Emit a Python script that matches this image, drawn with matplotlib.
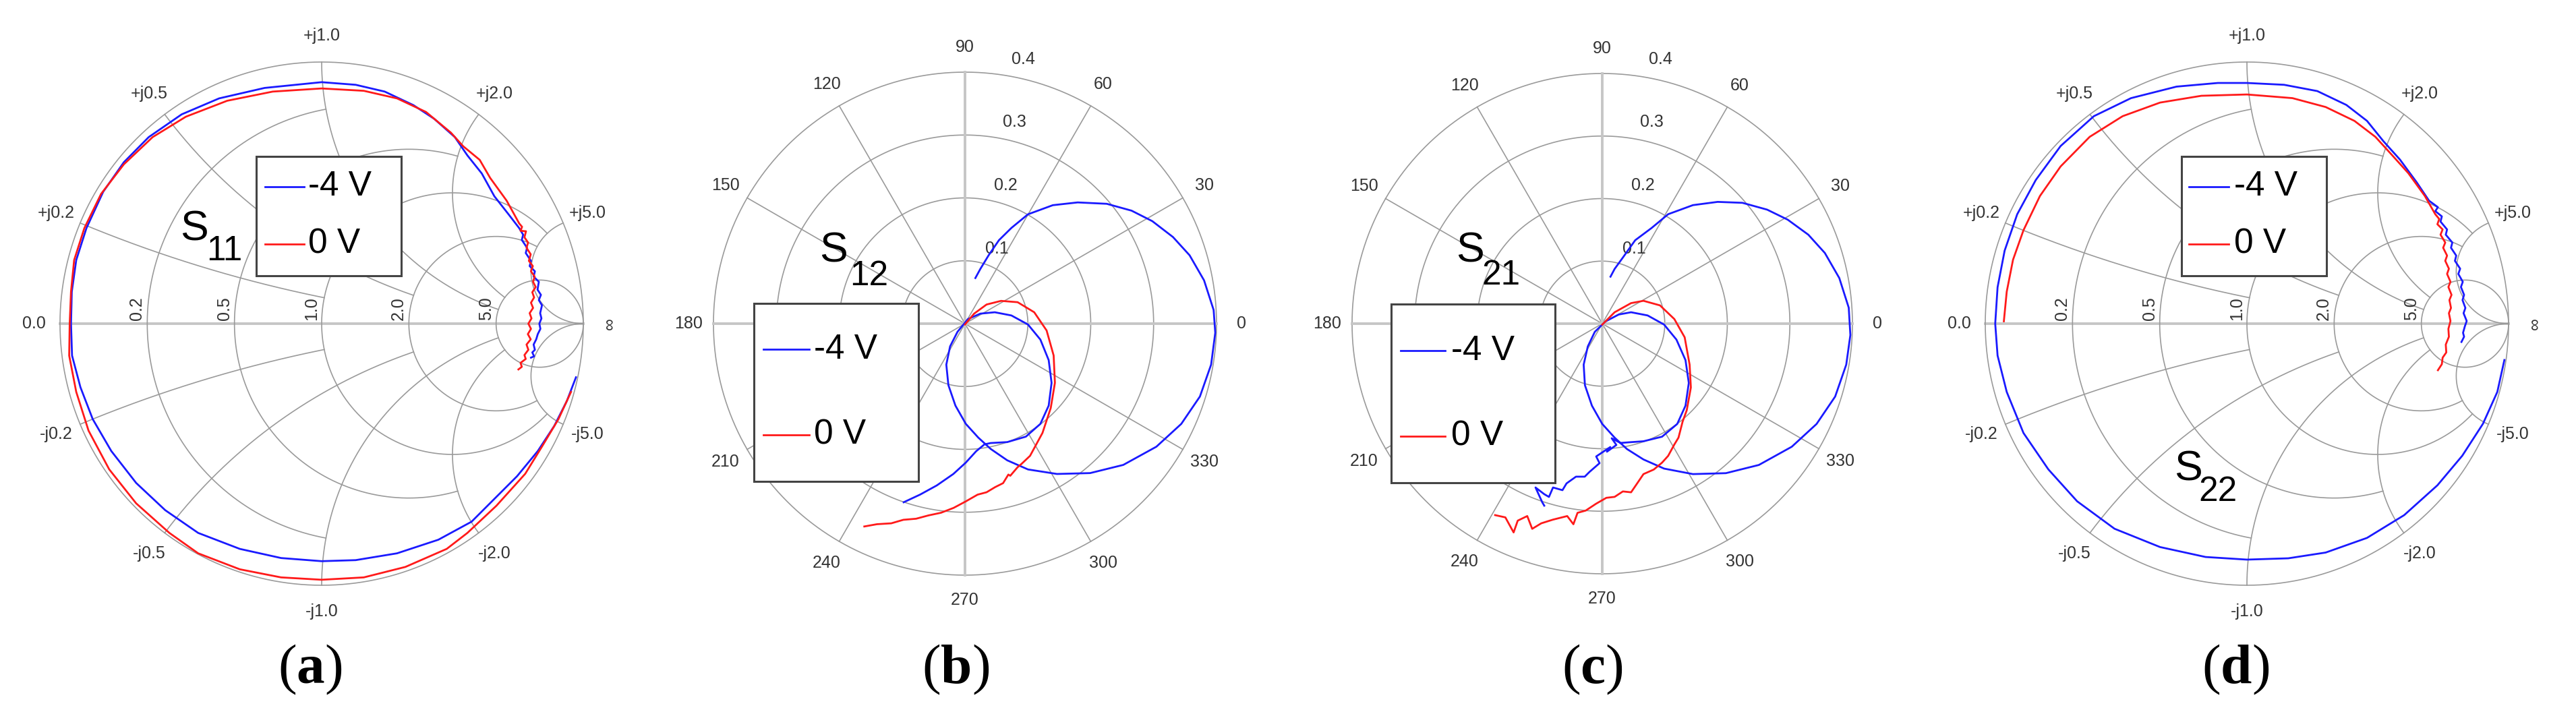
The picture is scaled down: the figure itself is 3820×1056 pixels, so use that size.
import numpy as np
import matplotlib
matplotlib.use('Agg')
from matplotlib import pyplot as plt
from matplotlib.patches import Rectangle
from matplotlib.lines import Line2D

plt.rcParams['font.family'] = ['Liberation Sans', 'DejaVu Sans']
plt.rcParams['mathtext.fontset'] = 'custom'
plt.rcParams['mathtext.rm'] = 'Liberation Serif'
plt.rcParams['mathtext.bf'] = 'Liberation Serif:bold'

W, H = 3820, 1056

# ---------------- data ----------------
legend_labels = ['-4 V', '0 V']
panel_tags = ['a', 'b', 'c', 'd']

# Smith chart grid values
smith_r = [0.2, 0.5, 1.0, 2.0, 5.0]
smith_x = [0.2, 0.5, 1.0, 2.0, 5.0]

# polar grid values
polar_rings = [0.1, 0.2, 0.3, 0.4]
polar_angles = [0, 30, 60, 90, 120, 150, 180, 210, 240, 270, 300, 330]

# S11, reflection coefficient (real, imag)
s11_m4v_re = [0.972, 0.937, 0.889, 0.826, 0.747, 0.652, 0.573, 0.446, 0.288, 0.130, 0.0,
              -0.155, -0.313, -0.472, -0.598, -0.709, -0.804, -0.875, -0.922, -0.954, -0.958,
              -0.955, -0.938, -0.899, -0.835, -0.756, -0.661, -0.535, -0.392, -0.218, 0.0,
              0.130, 0.241, 0.351, 0.430, 0.509, 0.557, 0.612, 0.660, 0.715, 0.755,
              0.770, 0.765, 0.785, 0.780, 0.800, 0.795, 0.815, 0.810, 0.830, 0.825, 0.838,
              0.830, 0.842, 0.835, 0.840, 0.832, 0.836, 0.826, 0.820, 0.810, 0.815, 0.805,
              0.812, 0.800]
s11_m4v_im = [-0.205, -0.296, -0.391, -0.487, -0.583, -0.678, -0.757, -0.826, -0.878, -0.904,
              -0.908, -0.896, -0.861, -0.800, -0.713, -0.609, -0.487, -0.365, -0.243, -0.122,
              0.0, 0.122, 0.243, 0.365, 0.504, 0.617, 0.713, 0.800, 0.861, 0.901, 0.923,
              0.913, 0.887, 0.835, 0.783, 0.713, 0.643, 0.574, 0.487, 0.417, 0.365,
              0.340, 0.320, 0.290, 0.270, 0.240, 0.220, 0.200, 0.180, 0.160, 0.130, 0.110,
              0.090, 0.070, 0.040, 0.020, 0.000, -0.020, -0.040, -0.060, -0.080, -0.100,
              -0.110, -0.125, -0.130]
s11_0v_re = [0.953, 0.905, 0.842, 0.778, 0.668, 0.557, 0.478, 0.320, 0.161, 0.0,
             -0.155, -0.313, -0.472, -0.582, -0.709, -0.812, -0.891, -0.938, -0.965, -0.963,
             -0.958, -0.946, -0.907, -0.843, -0.756, -0.646, -0.519, -0.361, -0.187, 0.0,
             0.161, 0.288, 0.399, 0.494, 0.541, 0.604, 0.644, 0.707, 0.755,
             0.766, 0.760, 0.781, 0.775, 0.789, 0.783, 0.799, 0.792, 0.807, 0.800,
             0.814, 0.808, 0.818, 0.805, 0.812, 0.800, 0.808, 0.795, 0.802, 0.790,
             0.800, 0.788, 0.799, 0.783, 0.790, 0.775, 0.780, 0.760, 0.765, 0.752]
s11_0v_im = [-0.261, -0.365, -0.470, -0.574, -0.696, -0.800, -0.861, -0.930, -0.970, -0.979,
             -0.970, -0.939, -0.878, -0.800, -0.687, -0.557, -0.409, -0.261, -0.122, 0.0,
             0.122, 0.243, 0.365, 0.496, 0.609, 0.713, 0.791, 0.852, 0.887, 0.899,
             0.890, 0.861, 0.809, 0.730, 0.678, 0.626, 0.557, 0.470, 0.383,
             0.370, 0.355, 0.353, 0.330, 0.310, 0.290, 0.265, 0.240, 0.220, 0.200,
             0.180, 0.160, 0.140, 0.120, 0.100, 0.080, 0.060, 0.040, 0.020, 0.000,
             -0.020, -0.040, -0.060, -0.080, -0.100, -0.120, -0.135, -0.150, -0.165, -0.175]

# S12 (real, imag)
s12_m4v_re = [0.0165, 0.0244, 0.0376, 0.0540, 0.0738, 0.1002, 0.1397, 0.1792, 0.2254, 0.2649,
              0.2979, 0.3308, 0.3572, 0.3802, 0.3954, 0.3980, 0.3914, 0.3736, 0.3440, 0.3044,
              0.2517, 0.1990, 0.1463, 0.1002, 0.0672, 0.0409, 0.0211, 0.0013, -0.0152, -0.0264,
              -0.0297, -0.0237, -0.0119, 0.0046, 0.0244, 0.0474, 0.0738, 0.1002, 0.1199, 0.1331,
              0.1377, 0.1331, 0.1199, 0.0969, 0.0672, 0.0409, 0.0310, 0.0178, 0.0013, -0.0185,
              -0.0448, -0.0712, -0.0975]
s12_m4v_im = [0.0725, 0.0870, 0.1087, 0.1327, 0.1522, 0.1739, 0.1884, 0.1928, 0.1906, 0.1797,
              0.1630, 0.1377, 0.1087, 0.0688, 0.0217, -0.0145, -0.0652, -0.1159, -0.1594, -0.1957,
              -0.2247, -0.2377, -0.2391, -0.2319, -0.2174, -0.1993, -0.1812, -0.1594, -0.1304, -0.0978,
              -0.0652, -0.0362, -0.0130, 0.0072, 0.0159, 0.0181, 0.0130, -0.0014, -0.0254, -0.0580,
              -0.0942, -0.1304, -0.1594, -0.1797, -0.1884, -0.1899, -0.1920, -0.2029, -0.2210, -0.2391,
              -0.2573, -0.2718, -0.2841]
s12_0v_re = [0.0, 0.0145, 0.0343, 0.0573, 0.0837, 0.1101, 0.1298, 0.1410, 0.1430, 0.1364,
             0.1232, 0.1035, 0.0900, 0.0837, 0.0720, 0.0690, 0.0606, 0.0480, 0.0343, 0.0200,
             0.0013, -0.0180, -0.0382, -0.0580, -0.0778, -0.0980, -0.1173, -0.1400, -0.1601]
s12_0v_im = [-0.0014, 0.0159, 0.0304, 0.0362, 0.0341, 0.0181, -0.0109, -0.0507, -0.0942, -0.1341,
             -0.1739, -0.2102, -0.2230, -0.2283, -0.2420, -0.2400, -0.2537, -0.2600, -0.2682, -0.2720,
             -0.2827, -0.2930, -0.3008, -0.3050, -0.3103, -0.3120, -0.3176, -0.3190, -0.3226]

# S21 (real, imag)
s21_m4v_re = [0.0132, 0.0198, 0.0330, 0.0527, 0.0791, 0.1054, 0.1450, 0.1845, 0.2241, 0.2636,
              0.2966, 0.3295, 0.3559, 0.3790, 0.3941, 0.3967, 0.3901, 0.3724, 0.3427, 0.3031,
              0.2504, 0.1977, 0.1450, 0.0989, 0.0659, 0.0395, 0.0198, 0.0, -0.0165, -0.0277,
              -0.0297, -0.0231, -0.0119, 0.0053, 0.0264, 0.0461, 0.0725, 0.0989, 0.1186, 0.1331,
              0.1384, 0.1331, 0.1199, 0.0956, 0.0659, 0.0461,
              0.0291, 0.0151, 0.0226, 0.0075, 0.0129, -0.0097, -0.0043, -0.0205, -0.0280, -0.0420,
              -0.0571, -0.0636, -0.0787, -0.0852, -0.0927, -0.1067, -0.0959, -0.0927]
s21_m4v_im = [0.0751, 0.0875, 0.1057, 0.1334, 0.1531, 0.1750, 0.1895, 0.1947, 0.1932, 0.1823,
              0.1662, 0.1422, 0.1130, 0.0729, 0.0255, -0.0182, -0.0656, -0.1166, -0.1604, -0.1968,
              -0.2260, -0.2391, -0.2406, -0.2318, -0.2172, -0.2005, -0.1823, -0.1604, -0.1312, -0.0984,
              -0.0656, -0.0365, -0.0131, 0.0036, 0.0146, 0.0182, 0.0131, -0.0015, -0.0255, -0.0583,
              -0.0948, -0.1312, -0.1604, -0.1808, -0.1881, -0.1895,
              -0.1908, -0.1833, -0.1940, -0.2048, -0.1973, -0.2124, -0.2231, -0.2372, -0.2447, -0.2447,
              -0.2555, -0.2663, -0.2620, -0.2771, -0.2727, -0.2620, -0.2857, -0.2911]
s21_0v_re = [0.0, 0.0198, 0.0461, 0.0659, 0.0923, 0.1153, 0.1318, 0.1397, 0.1417, 0.1351,
             0.1285, 0.1219, 0.1153, 0.1054, 0.0956, 0.0824, 0.0659, 0.0560, 0.0461, 0.0330,
             0.0198, 0.0066, -0.0099, -0.0264, -0.0395, -0.0461, -0.0560, -0.0791, -0.0975, -0.1120,
             -0.1199, -0.1351, -0.1417, -0.1549, -0.1713]
s21_0v_im = [-0.0015, 0.0182, 0.0328, 0.0365, 0.0292, 0.0073, -0.0219, -0.0656, -0.1021, -0.1385,
             -0.1567, -0.1823, -0.1932, -0.2114, -0.2223, -0.2333, -0.2406, -0.2552, -0.2697, -0.2683,
             -0.2770, -0.2785, -0.2880, -0.2989, -0.3025, -0.3208, -0.3077, -0.3135, -0.3193, -0.3281,
             -0.3077, -0.3150, -0.3339, -0.3098, -0.3062]

# S22 (real, imag)
s22_m4v_re = [0.984, 0.957, 0.902, 0.823, 0.728, 0.601, 0.459, 0.301, 0.158, 0.0,
              -0.158, -0.332, -0.506, -0.649, -0.759, -0.854, -0.918, -0.953, -0.962, -0.953,
              -0.926, -0.878, -0.807, -0.712, -0.585, -0.443, -0.269, -0.111, 0.0, 0.142,
              0.269, 0.380, 0.459, 0.522, 0.585, 0.649, 0.696,
              0.730, 0.720, 0.745, 0.740, 0.765, 0.760, 0.785, 0.780, 0.800, 0.795, 0.815,
              0.808, 0.825, 0.818, 0.830, 0.824, 0.835, 0.828, 0.840, 0.833, 0.826, 0.830, 0.820]
s22_m4v_im = [-0.139, -0.261, -0.383, -0.505, -0.618, -0.732, -0.819, -0.875, -0.897, -0.902,
              -0.892, -0.854, -0.784, -0.679, -0.557, -0.418, -0.261, -0.122, 0.0, 0.139,
              0.279, 0.418, 0.549, 0.679, 0.793, 0.862, 0.906, 0.920, 0.920, 0.913,
              0.889, 0.836, 0.775, 0.697, 0.627, 0.540, 0.470,
              0.445, 0.430, 0.410, 0.390, 0.360, 0.340, 0.310, 0.290, 0.260, 0.240, 0.210,
              0.190, 0.160, 0.140, 0.110, 0.090, 0.060, 0.040, 0.010, -0.010, -0.035, -0.050, -0.070]
s22_0v_re = [-0.929, -0.918, -0.894, -0.854, -0.791, -0.712, -0.601, -0.475, -0.332, -0.174,
             0.0, 0.174, 0.301, 0.411, 0.491, 0.554, 0.617, 0.680,
             0.720, 0.735, 0.728, 0.748, 0.740, 0.758, 0.750, 0.765, 0.758, 0.772, 0.765, 0.778,
             0.770, 0.782, 0.774, 0.780, 0.772, 0.778, 0.770, 0.772, 0.760, 0.762, 0.748, 0.745, 0.730]
s22_0v_im = [0.009, 0.122, 0.244, 0.357, 0.488, 0.601, 0.714, 0.793, 0.845, 0.871,
             0.876, 0.862, 0.828, 0.775, 0.714, 0.645, 0.575, 0.488,
             0.418, 0.400, 0.380, 0.360, 0.340, 0.310, 0.290, 0.260, 0.240, 0.210, 0.190, 0.160,
             0.140, 0.110, 0.090, 0.060, 0.040, 0.010, -0.020, -0.050, -0.080, -0.110, -0.130, -0.155, -0.178]

# ---------------- style ----------------
GRID_C = '#9a9a9a'
AXIS_C = '#c6c6c6'
TEXT_C = '#333333'
BLUE = '#1a1aff'
RED = '#ff1a1a'
GRID_LW = 1.2
AXIS_LW = 2.8
CURVE_LW = 2.0
TICK_FS = 18

# where a grid line stops (value of the crossing line it ends on)
smith_r_stop = {0.2: 1.0, 0.5: 2.0, 1.0: 5.0, 2.0: 5.0, 5.0: np.inf}
smith_x_stop = {0.2: 1.0, 0.5: 2.0, 1.0: 5.0, 2.0: 5.0, 5.0: np.inf}

fig = plt.figure(figsize=(W / 100, H / 100), dpi=100)


def add_panel(cx, cy, r_px, r_data):
    half = 1.2 * r_px
    ax = fig.add_axes([(cx - half) / W, (H - cy - half) / H, 2 * half / W, 2 * half / H])
    lim = 1.2 * r_data
    ax.set_xlim(-lim, lim)
    ax.set_ylim(-lim, lim)
    ax.axis('off')
    return ax


def gamma(z):
    return (z - 1) / (z + 1)


def draw_smith_grid(ax):
    t = np.linspace(0, 2 * np.pi, 721)
    ax.plot([-1, 1], [0, 0], color=AXIS_C, lw=AXIS_LW, zorder=1)
    ax.plot(np.cos(t), np.sin(t), color=GRID_C, lw=GRID_LW, zorder=1)
    far = np.tan(np.linspace(0, np.pi / 2, 3000, endpoint=False))
    for r in smith_r:
        lim = smith_r_stop[r]
        if np.isfinite(lim):
            xs = np.linspace(-lim, lim, 1500)
        else:
            xs = np.concatenate([-far[::-1], far])
        g = gamma(r + 1j * xs)
        ax.plot(g.real, g.imag, color=GRID_C, lw=GRID_LW, zorder=1)
        gx = (r - 1) / (r + 1)
        ax.text(gx - 0.008, 0.012, f'{r:.1f}', rotation=90, ha='right', va='bottom',
                fontsize=TICK_FS, color=TEXT_C)
    for x in smith_x:
        lim = smith_x_stop[x]
        rs = np.linspace(0, lim, 1500) if np.isfinite(lim) else far
        for sgn in (1, -1):
            g = gamma(rs + 1j * sgn * x)
            ax.plot(g.real, g.imag, color=GRID_C, lw=GRID_LW, zorder=1)
        p = 1.1 * gamma(1j * x)
        ax.text(p.real, p.imag, f'+j{x:.1f}', ha='center', va='center', fontsize=TICK_FS, color=TEXT_C)
        ax.text(p.real, -p.imag, f'-j{x:.1f}', ha='center', va='center', fontsize=TICK_FS, color=TEXT_C)
    ax.text(-1.1, 0, '0.0', ha='center', va='center', fontsize=TICK_FS, color=TEXT_C)
    ax.text(1.1, 0, '\u221e', rotation=90, ha='center', va='center', fontsize=TICK_FS, color=TEXT_C)


def draw_polar_grid(ax, r_px):
    t = np.linspace(0, 2 * np.pi, 721)
    rmax = polar_rings[-1]
    px = rmax / r_px
    for rr in polar_rings:
        ax.plot(rr * np.cos(t), rr * np.sin(t), color=GRID_C, lw=GRID_LW, zorder=1)
    for a in polar_angles:
        th = np.deg2rad(a)
        if a % 90:
            ax.plot([0, rmax * np.cos(th)], [0, rmax * np.sin(th)], color=GRID_C, lw=GRID_LW, zorder=1)
        ax.text(1.1 * rmax * np.cos(th), 1.1 * rmax * np.sin(th), str(a),
                ha='center', va='center', fontsize=TICK_FS, color=TEXT_C)
    ax.plot([-rmax, rmax], [0, 0], color=AXIS_C, lw=AXIS_LW, zorder=1)
    ax.plot([0, 0], [-rmax, rmax], color=AXIS_C, lw=AXIS_LW, zorder=1)
    for rr in polar_rings:
        ax.text((34 + 130 * rr) * px, (18 + 935 * rr) * px, f'{rr:.1f}',
                ha='center', va='center', fontsize=TICK_FS, color=TEXT_C)


def draw_legend(lines, box, rows, line_x, text_x):
    l, t, r, b = box
    fig.add_artist(Rectangle((l / W, 1 - b / H), (r - l) / W, (b - t) / H,
                             transform=fig.transFigure, facecolor='white',
                             edgecolor='#444444', lw=2.2, zorder=5))
    for ln, y in zip(lines, rows):
        fig.add_artist(Line2D([line_x[0] / W, line_x[1] / W], [1 - y / H, 1 - y / H],
                              transform=fig.transFigure, color=ln.get_color(),
                              lw=ln.get_linewidth(), zorder=6))
        fig.text(text_x / W, 1 - y / H, ln.get_label(), fontsize=37,
                 ha='left', va='center', zorder=6)


def s_label(ax, pos, sub_pos, sub):
    ax.text(pos[0], pos[1], 'S', fontsize=45, ha='center', va='center', zorder=4)
    ax.text(sub_pos[0], sub_pos[1], sub, fontsize=37, ha='center', va='center', zorder=4)


def plot_pair(ax, blue, red):
    lb, = ax.plot(blue[0], blue[1], color=BLUE, lw=CURVE_LW, label=legend_labels[0], zorder=3)
    lr, = ax.plot(red[0], red[1], color=RED, lw=CURVE_LW, label=legend_labels[1], zorder=3)
    return [lb, lr]


# (a) S11 Smith chart
ax_a = add_panel(477, 480, 388, 1.0)
draw_smith_grid(ax_a)
lines_a = plot_pair(ax_a, (s11_m4v_re, s11_m4v_im), (s11_0v_re, s11_0v_im))
s_label(ax_a, (-0.487, 0.362), (-0.371, 0.278), '11')
draw_legend(lines_a, (380, 232, 595, 409), (277, 362), (393, 451), 457)

# (b) S12 polar
ax_b = add_panel(1431, 480, 373, 0.4)
draw_polar_grid(ax_b, 373)
lines_b = plot_pair(ax_b, (s12_m4v_re, s12_m4v_im), (s12_0v_re, s12_0v_im))
s_label(ax_b, (-0.209, 0.116), (-0.153, 0.076), '12')
draw_legend(lines_b, (1118, 450, 1362, 714), (518, 645), (1132, 1200), 1207)

# (c) S21 polar
ax_c = add_panel(2376, 480, 371, 0.4)
draw_polar_grid(ax_c, 371)
lines_c = plot_pair(ax_c, (s21_m4v_re, s21_m4v_im), (s21_0v_re, s21_0v_im))
s_label(ax_c, (-0.211, 0.116), (-0.162, 0.077), '21')
draw_legend(lines_c, (2063, 451, 2306, 716), (520, 647), (2077, 2143), 2152)

# (d) S22 Smith chart
ax_d = add_panel(3332, 480, 388, 1.0)
draw_smith_grid(ax_d)
lines_d = plot_pair(ax_d, (s22_m4v_re, s22_m4v_im), (s22_0v_re, s22_0v_im))
s_label(ax_d, (-0.224, -0.557), (-0.111, -0.644), '22')
draw_legend(lines_d, (3235, 232, 3450, 409), (277, 362), (3246, 3305), 3313)

# panel tags
for tag, x in zip(panel_tags, [460, 1417, 2361, 3315]):
    fig.text(x / W, 1 - 993 / H, r'$(\mathbf{' + tag + r'})$', fontsize=60,
             ha='center', va='center')

fig.savefig('out.png', dpi=100, facecolor='white')
